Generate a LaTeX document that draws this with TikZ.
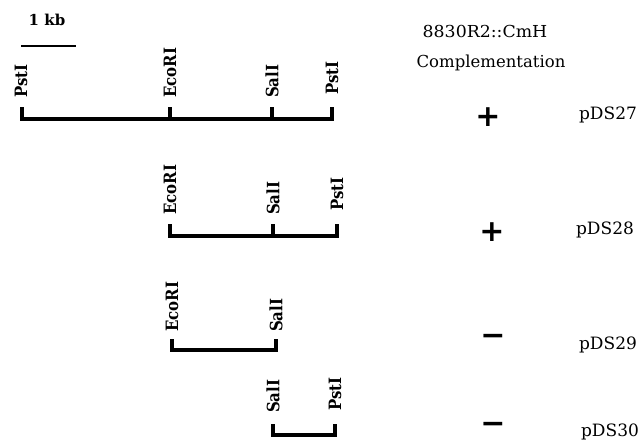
\documentclass[tikz,border=0pt]{standalone}
\usepackage{fontspec}
\setmainfont{DejaVu Serif}
\newfontfamily\signfont{DejaVu Sans}
\newcommand{\sitename}[1]{\scalebox{0.88}[1]{#1}}
\begin{document}
\begin{tikzpicture}[x=1pt,y=-1pt,
  map/.style={line width=3.5pt, line join=miter},
  scalebar/.style={line width=2.2pt},
  site/.style={font=\fontsize{17}{17}\selectfont\bfseries, rotate=90, anchor=west, inner sep=0pt},
  head/.style={font=\fontsize{16.5}{16.5}\selectfont, inner sep=0pt},
  sign/.style={font=\signfont\fontsize{30}{30}\selectfont\bfseries, inner sep=0pt},
  clone/.style={font=\fontsize{17}{17}\selectfont, inner sep=0pt}]
\useasboundingbox (0,0) rectangle (642,440);

% scale bar
\node[head, font=\fontsize{15}{15}\selectfont\bfseries] (kb) at (47,20) {1 kb};
\coordinate (sb1) at (21,46);
\coordinate (sb2) at (76,46);
\draw[scalebar] (sb1) -- (sb2);

% column headings
\node[head] (strain) at (485,31) {\scalebox{1.05}[1]{8830R2::CmH}};
\node[head] (compl) at (491,63) {Complementation};

% pDS27: PstI - EcoRI - SalI - PstI
\coordinate (a1) at (22,107);  \coordinate (a1b) at (22,119);
\coordinate (b1) at (170,107);
\coordinate (c1) at (272,107);
\coordinate (d1) at (332,107); \coordinate (d1b) at (332,119);
\draw[map] (a1) -- (a1b) -- (d1b) -- (d1);
\draw[map] (b1) -- (b1 |- a1b);
\draw[map] (c1) -- (c1 |- a1b);
\node[site] (la1) at (21,98) {\sitename{PstI}};
\node[site] (lb1) at (170,98) {\sitename{EcoRI}};
\node[site] (lc1) at (272,98) {\sitename{SalI}};
\node[site] (ld1) at (332,95) {\sitename{PstI}};

% pDS28: EcoRI - SalI - PstI
\coordinate (b2) at (170,224); \coordinate (b2b) at (170,236);
\coordinate (c2) at (273,224);
\coordinate (d2) at (337,224); \coordinate (d2b) at (337,236);
\draw[map] (b2) -- (b2b) -- (d2b) -- (d2);
\draw[map] (c2) -- (c2 |- b2b);
\node[site] (lb2) at (170,215) {\sitename{EcoRI}};
\node[site] (lc2) at (273,215) {\sitename{SalI}};
\node[site] (ld2) at (337,211) {\sitename{PstI}};

% pDS29: EcoRI - SalI
\coordinate (b3) at (172,339); \coordinate (b3b) at (172,350);
\coordinate (c3) at (276,339); \coordinate (c3b) at (276,350);
\draw[map] (b3) -- (b3b) -- (c3b) -- (c3);
\node[site] (lb3) at (172,332) {\sitename{EcoRI}};
\node[site] (lc3) at (276,332) {\sitename{SalI}};

% pDS30: SalI - PstI
\coordinate (c4) at (273,424); \coordinate (c4b) at (273,435);
\coordinate (d4) at (335,424); \coordinate (d4b) at (335,435);
\draw[map] (c4) -- (c4b) -- (d4b) -- (d4);
\node[site] (lc4) at (273,413) {\sitename{SalI}};
\node[site] (ld4) at (335,411) {\sitename{PstI}};

% complementation results
\node[sign] (s1) at (488,117) {+};
\node[sign] (s2) at (492,232) {+};
\node[sign] (s3) at (493,340) {−};
\node[sign] (s4) at (493,428) {−};

% clone names
\node[clone] (p1) at (608,115) {pDS27};
\node[clone] (p2) at (605,230) {pDS28};
\node[clone] (p3) at (608,345) {pDS29};
\node[clone] (p4) at (610,432) {pDS30};
\end{tikzpicture}
\end{document}
